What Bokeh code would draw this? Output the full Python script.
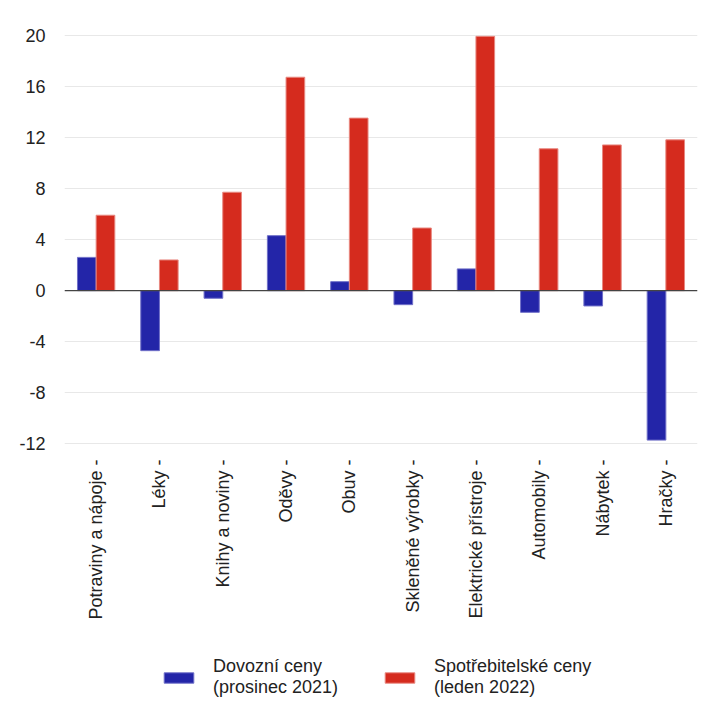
import math
from bokeh.plotting import figure
from bokeh.layouts import column
from bokeh.models import (FactorRange, Range1d, FixedTicker, Span, Legend, LegendItem,
                          ColumnDataSource, CustomJSTickFormatter)
from bokeh.transform import dodge
from bokeh.embed import file_html
from bokeh.resources import INLINE

categories = ["Potraviny a nápoje", "Léky", "Knihy a noviny", "Oděvy", "Obuv",
              "Skleněné výrobky", "Elektrické přístroje", "Automobily", "Nábytek", "Hračky"]
import_prices = [2.6, -4.7, -0.6, 4.3, 0.7, -1.1, 1.7, -1.7, -1.2, -11.7]
consumer_prices = [5.9, 2.4, 7.7, 16.7, 13.5, 4.9, 19.9, 11.1, 11.4, 11.8]
y_ticks = [-12, -8, -4, 0, 4, 8, 12, 16, 20]
series_labels = ["Dovozní ceny\n(prosinec 2021)", "Spotřebitelské ceny\n(leden 2022)"]

FONT = "Liberation Sans"
FS = "18px"
BLUE, BLUE_LINE = "#2325a8", "#7070c8"
RED, RED_LINE = "#d52b1e", "#e88880"

src = ColumnDataSource(dict(cat=categories, imp=import_prices, con=consumer_prices))

p = figure(x_range=FactorRange(factors=categories, range_padding=0),
           y_range=Range1d(-12.2, 20.2),
           width=721, height=640,
           min_border_left=64, min_border_right=24, min_border_top=32, min_border_bottom=194,
           output_backend="svg", toolbar_location=None, background_fill_color="white",
           border_fill_color="white")
p.outline_line_color = None

p.ygrid.ticker = FixedTicker(ticks=y_ticks)
p.ygrid.grid_line_color = "#e8e8e8"
p.ygrid.grid_line_width = 1
p.xgrid.grid_line_color = None

p.yaxis.ticker = FixedTicker(ticks=y_ticks)
p.yaxis.axis_line_color = None
p.yaxis.major_tick_line_color = None
p.yaxis.minor_tick_line_color = None
p.yaxis.major_label_text_font = FONT
p.yaxis.major_label_text_font_size = FS
p.yaxis.major_label_text_color = "#222222"
p.yaxis.major_label_standoff = 13
p.yaxis.major_label_overrides = {t: str(t) for t in y_ticks}

p.xaxis.axis_line_color = None
p.xaxis.major_tick_line_color = None
p.xaxis.minor_tick_line_color = None
p.xaxis.major_label_orientation = math.pi / 2
p.xaxis.major_label_text_font = FONT
p.xaxis.major_label_text_font_size = FS
p.xaxis.major_label_text_color = "#222222"
p.xaxis.major_label_standoff = 7
p.xaxis.formatter = CustomJSTickFormatter(code="return tick + ' -';")

p.vbar(x=dodge("cat", -0.1475, range=p.x_range), top="imp", width=0.295, source=src,
       fill_color=BLUE, line_color=BLUE_LINE, line_width=1)
p.vbar(x=dodge("cat", 0.1475, range=p.x_range), top="con", width=0.295, source=src,
       fill_color=RED, line_color=RED_LINE, line_width=1)

p.add_layout(Span(location=0, dimension="width", line_color="#444444", line_width=1.2))

# legend strip (frame aligned with the main chart's frame by the column layout)
lp = figure(width=721, height=64, x_range=Range1d(0, 1), y_range=Range1d(0, 1),
            min_border_left=0, min_border_right=0, min_border_top=0, min_border_bottom=0,
            output_backend="svg", toolbar_location=None, border_fill_color="white",
            background_fill_color="white")
lp.outline_line_color = None
lp.axis.visible = False
lp.grid.visible = False
nan = float("nan")
placeholder = ColumnDataSource(dict(x=[nan], top=[nan]))
d1 = lp.vbar(x="x", top="top", width=0.1, source=placeholder, fill_color=BLUE, line_color=BLUE_LINE)
d2 = lp.vbar(x="x", top="top", width=0.1, source=placeholder, fill_color=RED, line_color=RED_LINE)

legend = Legend(items=[LegendItem(label=series_labels[0], renderers=[d1]),
                       LegendItem(label=series_labels[1], renderers=[d2])],
                orientation="horizontal", location=(96, 6),
                label_text_font=FONT, label_text_font_size=FS, label_text_color="#222222",
                label_text_line_height=1.05,
                glyph_width=37, glyph_height=13, label_standoff=16, spacing=43,
                border_line_color=None, background_fill_alpha=0, margin=0, padding=0)
lp.add_layout(legend, "center")

layout = column(p, lp, spacing=0)
open("out.html", "w").write(file_html(layout, INLINE))
